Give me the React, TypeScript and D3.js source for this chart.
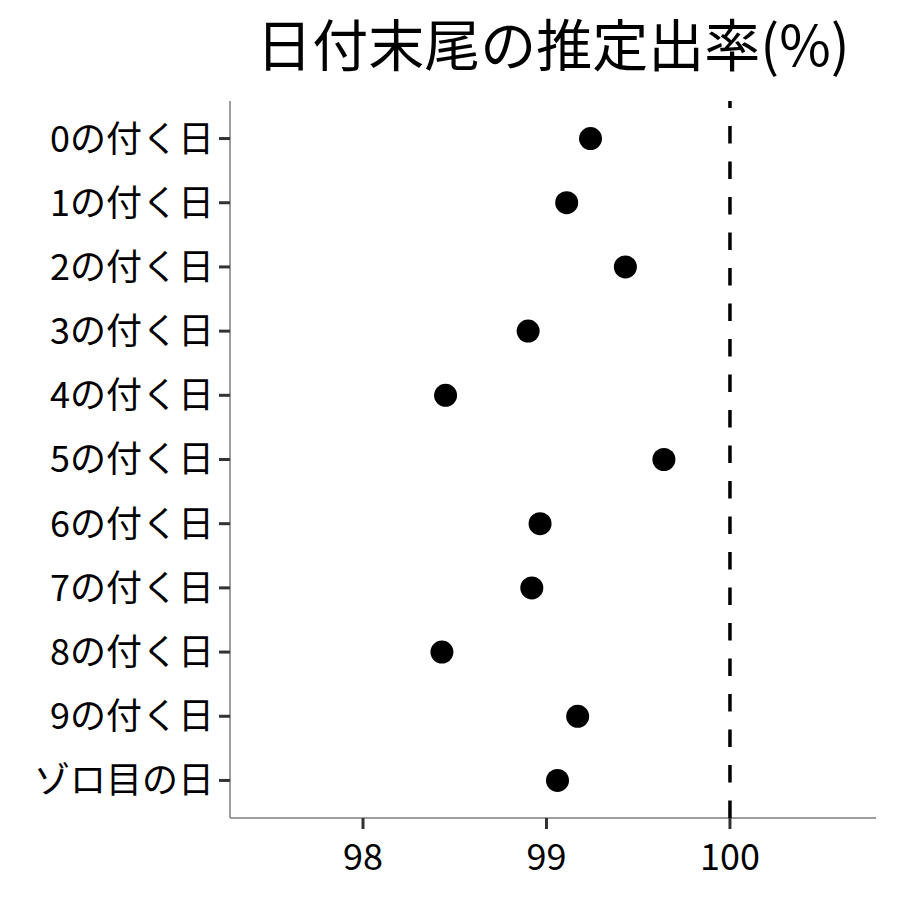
import React from 'react';
import * as d3 from 'd3';

const categories = [
  '0の付く日', '1の付く日', '2の付く日', '3の付く日', '4の付く日', '5の付く日',
  '6の付く日', '7の付く日', '8の付く日', '9の付く日', 'ゾロ目の日',
];
const rates = [99.24, 99.11, 99.43, 98.9, 98.45, 99.64, 98.965, 98.92, 98.43, 99.17, 99.06];
const xTicks = [98, 99, 100];
const refLine = 100;
const title = '日付末尾の推定出率(%)';

const W = 900;
const H = 900;
const margin = { top: 101, right: 24, bottom: 82, left: 230 };
const font = '"Noto Sans CJK JP", "Noto Sans", sans-serif';

const App = () => {
  const x = d3
    .scaleLinear()
    .domain([97.275, 100.796])
    .range([margin.left, W - margin.right]);

  const y = d3
    .scalePoint()
    .domain(categories)
    .range([margin.top, H - margin.bottom])
    .padding(0.585);

  const y0 = margin.top;
  const y1 = H - margin.bottom;

  return (
    <svg
      width={W}
      height={H}
      style={{ position: 'absolute', top: 0, left: 0, background: '#fff' }}
      fontFamily={font}
    >
      <text x={553} y={66} textAnchor="middle" fontSize={56} fill="#000">
        {title}
      </text>

      {/* axes */}
      <line x1={margin.left} x2={margin.left} y1={y0} y2={y1} stroke="#7f7f7f" strokeWidth={1.5} />
      <line x1={margin.left} x2={W - margin.right} y1={y1} y2={y1} stroke="#7f7f7f" strokeWidth={1.5} />

      {categories.map((c) => (
        <g key={c} transform={`translate(0,${y(c)})`}>
          <line x1={margin.left - 11} x2={margin.left} stroke="#333" strokeWidth={3} />
          <text x={margin.left - 16} dy="0.36em" textAnchor="end" fontSize={36} fill="#000">
            {c}
          </text>
        </g>
      ))}

      {xTicks.map((t) => (
        <g key={t} transform={`translate(${x(t)},${y1})`}>
          <line y1={0} y2={11} stroke="#333" strokeWidth={3} />
          <text y={52} textAnchor="middle" fontSize={36} fill="#000">
            {t}
          </text>
        </g>
      ))}

      <line
        x1={x(refLine)}
        x2={x(refLine)}
        y1={y0}
        y2={y1}
        stroke="#000"
        strokeWidth={3.5}
        strokeDasharray="17.5,18"
        strokeDashoffset={10.5}
      />

      {categories.map((c, i) => (
        <circle key={c} cx={x(rates[i])} cy={y(c)} r={11.5} fill="#000" />
      ))}
    </svg>
  );
};

export default App;
